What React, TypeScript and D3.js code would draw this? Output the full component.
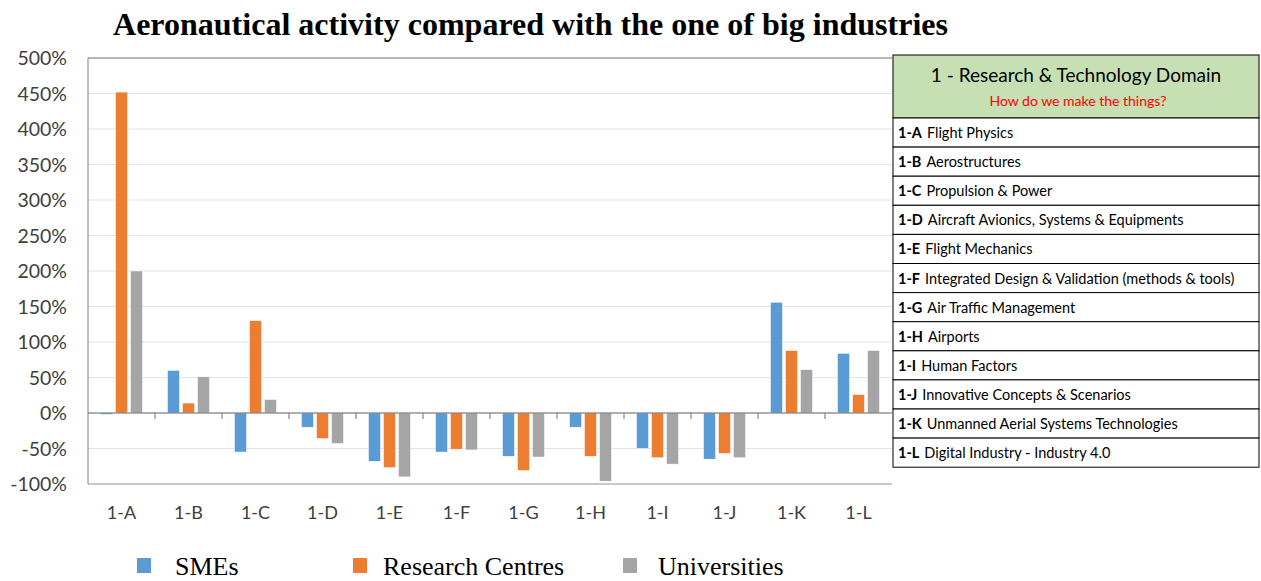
import React from "react";
import * as d3 from "d3";

const categories = ["1-A", "1-B", "1-C", "1-D", "1-E", "1-F", "1-G", "1-H", "1-I", "1-J", "1-K", "1-L"];
const smes = [-2, 60, -55, -20, -68, -55, -61, -20, -50, -65, 156, 84];
const researchCentres = [452, 14, 130, -36, -77, -51, -81, -61, -63, -57, 88, 26];
const universities = [200, 51, 19, -43, -90, -52, -62, -96, -72, -63, 61, 88];
const seriesNames = ["SMEs", "Research Centres", "Universities"];
const seriesColors = ["#5B9BD5", "#ED7D31", "#A5A5A5"];
const yTicks = [-100, -50, 0, 50, 100, 150, 200, 250, 300, 350, 400, 450, 500];
const domainTitle = "1 - Research & Technology Domain";
const domainSubtitle = "How do we make the things?";
const domainItems = [
  "Flight Physics",
  "Aerostructures",
  "Propulsion & Power",
  "Aircraft Avionics, Systems & Equipments",
  "Flight Mechanics",
  "Integrated Design & Validation (methods & tools)",
  "Air Traffic Management",
  "Airports",
  "Human Factors",
  "Innovative Concepts & Scenarios",
  "Unmanned Aerial Systems Technologies",
  "Digital Industry - Industry 4.0",
];

const W = 1261;
const H = 581;
const plot = { left: 88, right: 892, top: 58, bottom: 484 };
const sans = "Lato, 'Noto Sans', sans-serif";
const serif = "'Liberation Serif', 'Times New Roman', serif";
const legendSquareX = [137, 353, 623];
const legendTextX = [175, 383, 658];

export default function App() {
  const series = [smes, researchCentres, universities];
  const x = d3.scaleBand().domain(categories).range([plot.left, plot.right]).paddingInner(0).paddingOuter(0);
  const y = d3.scaleLinear().domain([-100, 500]).range([plot.bottom, plot.top]);
  const inner = d3.scaleBand().domain(["0", "1", "2"]).range([0, 42]).paddingInner(0.2);
  const groupOffset = (x.bandwidth() - 42) / 2;
  const y0 = y(0);

  const tableX = 893;
  const tableW = 366;
  const tableTop = 55;
  const headerH = 63;
  const rowH = 29.1;

  return (
    <svg width={W} height={H} style={{ position: "absolute", left: 0, top: 0, background: "#fff" }}>
      <text x={113} y={35} fontFamily={serif} fontWeight="bold" fontSize={31} textLength={835} lengthAdjust="spacingAndGlyphs" fill="#000">
        Aeronautical activity compared with the one of big industries
      </text>

      {/* gridlines */}
      {yTicks.map((t) => (
        <line key={"g" + t} x1={plot.left} x2={plot.right} y1={y(t)} y2={y(t)} stroke="#E3E3E3" strokeWidth={1} />
      ))}
      {/* frame */}
      <line x1={plot.left} x2={plot.right} y1={plot.top} y2={plot.top} stroke="#7F7F7F" strokeWidth={1} />
      <line x1={plot.left} x2={plot.right} y1={plot.bottom} y2={plot.bottom} stroke="#A0A0A0" strokeWidth={1} />
      <line x1={plot.left} x2={plot.left} y1={plot.top} y2={plot.bottom} stroke="#7F7F7F" strokeWidth={1} />

      {/* y tick labels */}
      {yTicks.map((t) => (
        <text key={"t" + t} x={67} y={y(t) + 7} textAnchor="end" fontFamily={sans} fontSize={19.5} fill="#404040">
          {t + "%"}
        </text>
      ))}

      {/* bars */}
      {categories.map((c, i) => (
        <g key={c}>
          {series.map((s, k) => {
            const v = s[i];
            const bx = (x(c) as number) + groupOffset + (inner(String(k)) as number);
            const top = Math.min(y(v), y0);
            const h = Math.abs(y(v) - y0);
            return <rect key={k} x={bx} y={top} width={inner.bandwidth()} height={h} fill={seriesColors[k]} stroke="#fff" strokeWidth={0.5} />;
          })}
        </g>
      ))}

      {/* zero axis */}
      <line x1={plot.left} x2={plot.right} y1={y0} y2={y0} stroke="#6E6E6E" strokeWidth={1} />
      {categories.slice(1).map((c) => (
        <line key={"tk" + c} x1={x(c) as number} x2={x(c) as number} y1={y0} y2={y0 + 6} stroke="#6E6E6E" strokeWidth={1} />
      ))}

      {/* x labels */}
      {categories.map((c) => (
        <text key={"xl" + c} x={(x(c) as number) + x.bandwidth() / 2} y={519} textAnchor="middle" fontFamily={sans} fontSize={18} fill="#404040">
          {c}
        </text>
      ))}

      {/* legend */}
      {seriesNames.map((n, k) => (
        <g key={n}>
          <rect x={legendSquareX[k]} y={558} width={14} height={15} fill={seriesColors[k]} />
          <text x={legendTextX[k]} y={575} fontFamily={serif} fontSize={26} fill="#000">
            {n}
          </text>
        </g>
      ))}

      {/* table */}
      <rect x={tableX} y={tableTop} width={tableW} height={headerH} fill="#C6E0B4" stroke="#000" strokeWidth={1} />
      <text x={tableX + tableW / 2} y={tableTop + 27} textAnchor="middle" fontFamily={sans} fontSize={19} fill="#000">
        {domainTitle}
      </text>
      <text x={tableX + tableW / 2 + 2} y={tableTop + 51} textAnchor="middle" fontFamily={sans} fontSize={14} fill="#FF0000">
        {domainSubtitle}
      </text>
      {domainItems.map((item, i) => {
        const ry = tableTop + headerH + i * rowH;
        return (
          <g key={item}>
            <rect x={tableX} y={ry} width={tableW} height={rowH} fill="#fff" stroke="#000" strokeWidth={1} />
            <text x={tableX + 5} y={ry + 20} fontFamily={sans} fontSize={14.5} fill="#000">
              <tspan fontWeight="bold">{categories[i]}</tspan>
              <tspan dx={5}>{item}</tspan>
            </text>
          </g>
        );
      })}
    </svg>
  );
}
